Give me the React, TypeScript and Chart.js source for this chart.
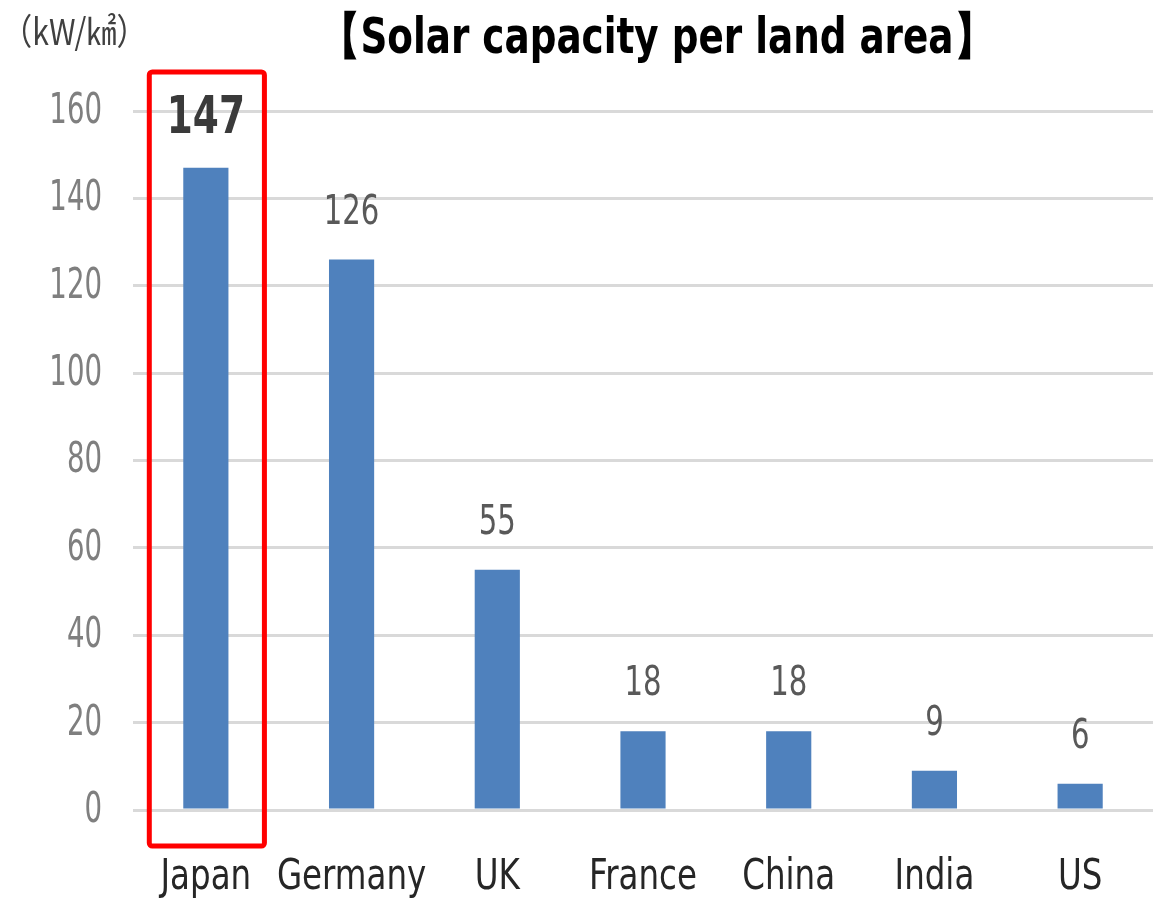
import React, { useEffect, useRef } from "react";
import { Chart, registerables } from "chart.js";

Chart.register(...registerables);

// Solar capacity per land area (kW/km²)
const countries = ["Japan", "Germany", "UK", "France", "China", "India", "US"];
const capacityPerArea = [147, 126, 55, 18, 18, 9, 6];
const yTicks = [0, 20, 40, 60, 80, 100, 120, 140, 160];

const titleText = "【Solar capacity per land area】";
const unitText = "（kW/㎢）";
const highlightIndex = 0;

const SANS = "'DejaVu Sans Condensed', 'DejaVu Sans', sans-serif";
const CJK = "'Noto Sans CJK JP', 'DejaVu Sans', sans-serif";

// text drawn with a horizontal squeeze to get a narrow face
function drawText(
  ctx: CanvasRenderingContext2D,
  text: string,
  x: number,
  y: number,
  font: string,
  color: string,
  sx: number,
  align: CanvasTextAlign,
  baseline: CanvasTextBaseline = "alphabetic"
) {
  ctx.save();
  ctx.translate(x, y);
  ctx.scale(sx, 1);
  ctx.font = font;
  ctx.fillStyle = color;
  ctx.textAlign = align;
  ctx.textBaseline = baseline;
  ctx.fillText(text, 0, 0);
  ctx.restore();
}

const overlayPlugin = {
  id: "overlay",
  afterDatasetsDraw(chart: any) {
    const { ctx } = chart;
    const meta = chart.getDatasetMeta(0);
    const yScale = chart.scales.y;
    const xScale = chart.scales.x;

    // y tick labels
    yScale.ticks.forEach((t: any) => {
      drawText(ctx, String(t.value), 102, yScale.getPixelForValue(t.value) + 1, `42px ${SANS}`, "#7f7f7f", 0.73, "right", "middle");
    });

    // category labels
    chart.data.labels.forEach((lab: string, i: number) => {
      drawText(ctx, lab, xScale.getPixelForValue(i), 889, `42px ${SANS}`, "#262626", 0.86, "center");
    });

    // value labels above bars
    meta.data.forEach((bar: any, i: number) => {
      const v = capacityPerArea[i];
      if (i === highlightIndex) {
        drawText(ctx, String(v), bar.x, bar.y - 35, `bold 52px ${SANS}`, "#3a3a3a", 0.8, "center");
      } else {
        drawText(ctx, String(v), bar.x, bar.y - 36, `41px ${SANS}`, "#595959", 0.79, "center");
      }
    });

    // highlight frame around the first category
    const cx = xScale.getPixelForValue(highlightIndex);
    const halfW = (xScale.getPixelForValue(1) - cx) * 0.395;
    const top = yScale.getPixelForValue(yTicks[yTicks.length - 1]) - 39;
    const bottom = yScale.getPixelForValue(0) + 36;
    ctx.save();
    ctx.strokeStyle = "#ff0000";
    ctx.lineWidth = 5;
    ctx.lineJoin = "round";
    ctx.beginPath();
    ctx.roundRect(cx - halfW + 1, top, halfW * 2, bottom - top, 3);
    ctx.stroke();
    ctx.restore();

    // title and unit
    drawText(ctx, titleText, 657, 53, `bold 50px ${SANS}`, "#000000", 0.83, "center");
    drawText(ctx, unitText, 2, 45, `36px ${CJK}`, "#404040", 0.84, "left");
  },
};

export default function App() {
  const canvasRef = useRef<HTMLCanvasElement | null>(null);

  useEffect(() => {
    if (!canvasRef.current) return;
    const chart = new Chart(canvasRef.current, {
      type: "bar",
      data: {
        labels: countries,
        datasets: [
          {
            data: capacityPerArea,
            backgroundColor: "#4f81bd",
            barPercentage: 0.31,
            categoryPercentage: 1,
          },
        ],
      },
      options: {
        animation: false,
        responsive: false,
        maintainAspectRatio: false,
        layout: { padding: { top: 111, right: 0, left: 0, bottom: 0 } },
        plugins: {
          legend: { display: false },
          tooltip: { enabled: false },
          title: { display: false },
        },
        scales: {
          x: {
            grid: { display: false, drawTicks: false },
            border: { display: false },
            ticks: { display: false },
            afterFit(scale: any) {
              scale.height = 92;
            },
          },
          y: {
            min: 0,
            max: 160,
            afterBuildTicks(scale: any) {
              scale.ticks = yTicks.map((v) => ({ value: v }));
            },
            grid: { color: "#d9d9d9", lineWidth: 3, drawTicks: false },
            border: { display: false },
            ticks: { display: false },
            afterFit(scale: any) {
              scale.width = 133;
            },
          },
        },
      },
      plugins: [overlayPlugin],
    });
    return () => chart.destroy();
  }, []);

  return (
    <div style={{ position: "fixed", left: 0, top: 0, width: 1153, height: 902, background: "#ffffff" }}>
      <canvas ref={canvasRef} width={1153} height={902} style={{ display: "block" }} />
    </div>
  );
}
